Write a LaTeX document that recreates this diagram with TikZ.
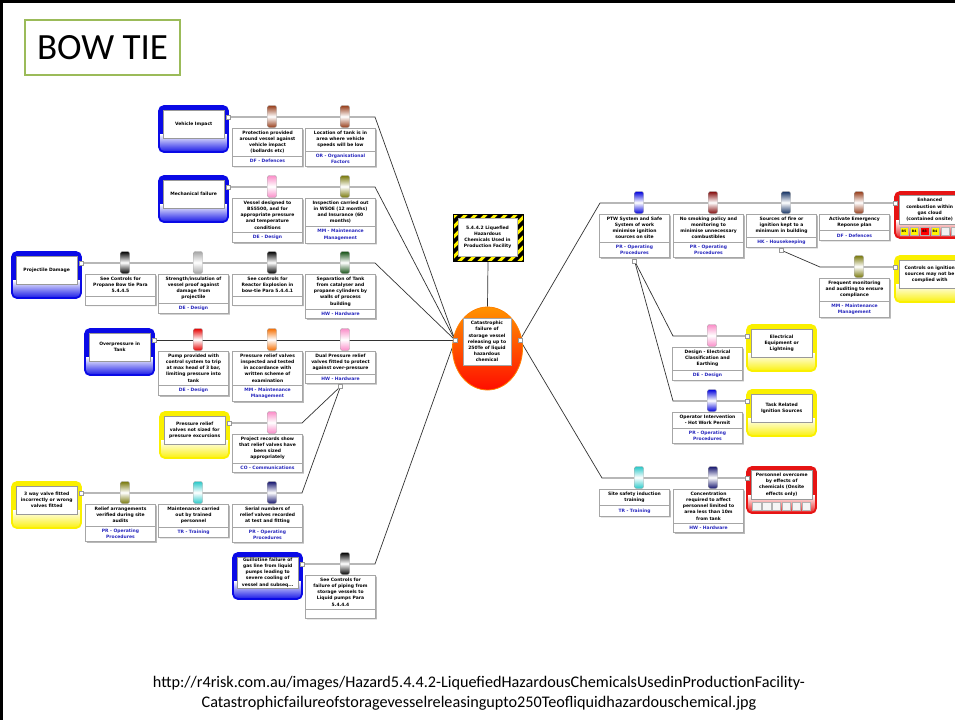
\documentclass[tikz,border=0pt]{standalone}
\usepackage{fontspec}
\setmainfont{Carlito}
\newfontfamily\dgfont{DejaVu Sans}
\usetikzlibrary{shapes.multipart,shapes.geometric,shadows}

\definecolor{tblue}{RGB}{10,10,230}
\definecolor{tyellow}{RGB}{250,240,0}
\definecolor{tred}{RGB}{230,20,20}
\definecolor{lblue}{RGB}{40,40,190}
\definecolor{cbrown}{RGB}{150,60,25}
\definecolor{cpink}{RGB}{250,140,200}
\definecolor{colive}{RGB}{120,120,10}
\definecolor{csilver}{RGB}{165,165,165}
\definecolor{cgreen}{RGB}{20,80,20}
\definecolor{cred}{RGB}{230,0,0}
\definecolor{corange}{RGB}{245,110,0}
\definecolor{ccyan}{RGB}{40,200,200}
\definecolor{cnavy}{RGB}{20,20,110}
\definecolor{cblue}{RGB}{0,0,220}
\definecolor{cmaroon}{RGB}{130,10,10}
\definecolor{csteel}{RGB}{20,50,100}
\definecolor{tgreen}{RGB}{155,187,89}

\pgfdeclarelayer{paper}
\pgfdeclarelayer{lines}
\pgfsetlayers{paper,lines,main}

\tikzset{
  dgtext/.style={font=\dgfont\bfseries\fontsize{4.5}{6.1}\selectfont, text=black},
  ctrlbox/.style={rectangle split, rectangle split parts=2, draw=gray!70, line width=0.4pt,
    fill=white, text width=66pt, inner xsep=2pt, inner ysep=2.8pt, align=center, dgtext,
    anchor=north, drop shadow={shadow xshift=1.3pt, shadow yshift=-1.3pt, fill=gray!55, opacity=1}},
  capsule/.style={rounded corners=2pt, minimum width=9pt, minimum height=22pt, inner sep=0pt,
    draw=gray!70, line width=0.4pt, top color=#1, bottom color=#1, middle color=white},
  innerbox/.style={draw=gray!80, line width=0.4pt, fill=white, inner sep=1pt, align=center,
    dgtext, anchor=north west},
  port/.style={draw=gray!80, fill=white, line width=0.4pt, minimum size=4pt, inner sep=0pt},
  cellbox/.style={draw=gray!60, line width=0.3pt, minimum width=8.5pt, minimum height=7.5pt,
    inner sep=0pt, font=\dgfont\bfseries\fontsize{3.2}{3.5}\selectfont},
  conn/.style={draw=black!80, line width=0.7pt},
}

\newcommand\lbl[1]{{\color{lblue}#1}}
\newcommand\nolbl{\rule{0pt}{3pt}}

% rounded frame with a glossy lower band: left x, line y, colour
\newcommand\glossframe[3]{%
  \fill[rounded corners=5pt, #3] (#1,{#2-11}) rectangle ({#1+69},{#2+35});
  \begin{scope}
    \clip[rounded corners=5pt] (#1,{#2-11}) rectangle ({#1+69},{#2+35});
    \shade[top color=white, bottom color=#3] (#1,{#2+17}) rectangle ({#1+69},{#2+36});
  \end{scope}
  \draw[rounded corners=5pt, #3, line width=1.8pt] (#1,{#2-11}) rectangle ({#1+69},{#2+35});
}

% cause / escalation box: name, left x, line y, colour, text, port x
\newcommand\sidebox[6]{%
  \glossframe{#2}{#3}{#4}
  \node[innerbox, minimum width=61pt, minimum height=28pt] (#1) at ({#2+4},{#3-7}) {#5};
  \node[port] (#1p) at (#6,#3) {};
}

% outcome box: name, left x, line y, text, risk cells
\newcommand\consbox[5]{%
  \glossframe{#2}{#3}{tred}
  \node[innerbox, minimum width=61pt, minimum height=29pt] (#1) at ({#2+4},{#3-8}) {#4};
  \node[port] (#1p) at (#2,#3) {};
  #5
}

\newcommand\rcell[4]{\node[cellbox, fill=#3] (#1) at #2 {#4};}

% barrier: name, capsule x, line y, colour, description, category
\newcommand\ctrl[6]{%
  \node[ctrlbox] (#1) at ({#2-4.5},{#3+11}) {#5\nodepart{two}#6};
  \node[capsule=#4] (#1c) at (#2,{#3-0.5}) {};
}

\begin{document}
\begin{tikzpicture}[x=1pt,y=-1pt]
\useasboundingbox (0,0) rectangle (955,720);
\clip (0,0) rectangle (955,720);
\begin{pgfonlayer}{paper}
  \fill[white] (0,0) rectangle (955,720);
\end{pgfonlayer}
\draw[line width=3pt] (0,1.5) -- (955,1.5);
\draw[line width=3pt] (1.5,0) -- (1.5,720);

% title
\node[draw=tgreen, line width=1.6pt, minimum width=155pt, minimum height=55pt, inner sep=0pt,
  font=\fontsize{37}{40}\selectfont] (title) at (102.5,47.5) {BOW TIE};

% hazard
\node[draw=black, line width=0.5pt, minimum width=70pt, minimum height=47pt,
  path picture={\fill[yellow] (path picture bounding box.south west) rectangle (path picture bounding box.north east);
    \foreach \s in {-70,-60,...,70} \draw[line width=3.6pt] ({\s-30},30) -- ({\s+30},-30);}] (hz) at (488,237.5) {};
\node[fill=white, draw=gray!60, minimum width=59pt, minimum height=38pt, inner sep=1pt,
  align=center, dgtext] (hzt) at (487.5,237) {5.4.4.2 Liquefied\\Hazardous\\Chemicals Used in\\Production Facility};

% top event
\node[ellipse, minimum width=70pt, minimum height=83pt, draw=orange, line width=0.8pt,
  top color=orange!85!yellow, bottom color=red!90!orange] (te) at (487.5,348.5) {};
\node[fill=white, draw=gray!70, minimum width=48pt, minimum height=47pt, inner sep=1pt,
  align=center, dgtext] (tet) at (487,341.5) {Catastrophic\\failure of\\storage vessel\\releasing up to\\250Te of liquid\\hazardous\\chemical};
\node[port] (tel) at (455,340) {};
\node[port] (ter) at (520,340) {};

% causes and escalation factors (left)
\sidebox{t1}{159}{117}{tblue}{Vehicle Impact}{228}
\sidebox{t2}{159}{187}{tblue}{Mechanical failure}{228}
\sidebox{t3}{12}{263}{tblue}{Projectile Damage}{81}
\sidebox{t4}{85}{340}{tblue}{Overpressure in\\Tank}{154}
\sidebox{e1}{160}{423}{tyellow}{Pressure relief\\valves not sized for\\pressure excursions}{229}
\sidebox{e2}{12}{493}{tyellow}{3 way valve fitted\\incorrectly or wrong\\valves fitted}{81}
\sidebox{t5}{233}{564}{tblue}{Guillotine failure of\\gas line from liquid\\pumps leading to\\severe cooling of\\vessel and subseq...}{302}

% preventive barriers
\ctrl{c11}{272}{117}{cbrown}{Protection provided\\around vessel against\\vehicle impact\\(bollards etc)}{\lbl{DF - Defences}}
\ctrl{c12}{345}{117}{cbrown}{Location of tank is in\\area where vehicle\\speeds will be low}{\lbl{OR - Organisational\\Factors}}
\ctrl{c21}{272}{187}{cpink}{Vessel designed to\\BS5500, and for\\appropriate pressure\\and temperature\\conditions}{\lbl{DE - Design}}
\ctrl{c22}{345}{187}{colive}{Inspection carried out\\in WSOE (12 months)\\and Insurance (60\\months)}{\lbl{MM - Maintenance\\Management}}
\ctrl{c31}{125}{263}{black}{See Controls for\\Propane Bow tie Para\\5.4.4.5}{\nolbl}
\ctrl{c32}{198}{263}{csilver}{Strength/insulation of\\vessel proof against\\damage from\\projectile}{\lbl{DE - Design}}
\ctrl{c33}{272}{263}{black}{See controls for\\Reactor Explosion in\\bow-tie Para 5.4.4.1}{\nolbl}
\ctrl{c34}{345}{263}{cgreen}{Separation of Tank\\from catalyser and\\propane cylinders by\\walls of process\\building}{\lbl{HW - Hardware}}
\ctrl{c41}{198}{340}{cred}{Pump provided with\\control system to trip\\at max head of 3 bar,\\limiting pressure into\\tank}{\lbl{DE - Design}}
\ctrl{c42}{272}{340}{corange}{Pressure relief valves\\inspected and tested\\in accordance with\\written scheme of\\examination}{\lbl{MM - Maintenance\\Management}}
\ctrl{c43}{345}{340}{cpink}{Dual Pressure relief\\valves fitted to protect\\against over-pressure}{\lbl{HW - Hardware}}
\ctrl{d11}{272}{423}{cpink}{Project records show\\that relief valves have\\been sized\\appropriately}{\lbl{CO - Communications}}
\ctrl{d21}{125}{493}{colive}{Relief arrangements\\verified during site\\audits}{\lbl{PR - Operating\\Procedures}}
\ctrl{d22}{198}{493}{ccyan}{Maintenance carried\\out by trained\\personnel}{\lbl{TR - Training}}
\ctrl{d23}{272}{493}{cnavy}{Serial numbers of\\relief valves recorded\\at test and fitting}{\lbl{PR - Operating\\Procedures}}
\ctrl{c51}{345}{564}{black}{See Controls for\\failure of piping from\\storage vessels to\\Liquid pumps Para\\5.4.4.4}{\nolbl}
\node[port] (c43p) at ([yshift=-3pt]c43.south) {};

% outcomes and escalation factors (right)
\consbox{k1}{895}{203}{Enhanced\\combustion within\\gas cloud\\(contained onsite)}{%
  \rcell{k1a}{(904,231)}{yellow}{B5}\rcell{k1b}{(914.3,231)}{yellow}{B4}%
  \rcell{k1c}{(924.6,231)}{red}{B3}\rcell{k1d}{(934.9,231)}{yellow}{B4}%
  \rcell{k1e}{(945.2,231)}{gray!12}{}\rcell{k1f}{(955.5,231)}{gray!12}{}}
\sidebox{f1}{895}{267}{tyellow}{Controls on ignition\\sources may not be\\complied with}{895}
\sidebox{f2}{747}{336}{tyellow}{Electrical\\Equipment or\\Lightning}{747}
\sidebox{f3}{747}{401}{tyellow}{Task Related\\Ignition Sources}{747}
\consbox{k2}{747}{478}{Personnel overcome\\by effects of\\chemicals (Onsite\\effects only)}{%
  \rcell{k2a}{(756.5,506)}{gray!8}{}\rcell{k2b}{(766.4,506)}{gray!8}{}%
  \rcell{k2c}{(776.3,506)}{gray!8}{}\rcell{k2d}{(786.2,506)}{gray!8}{}%
  \rcell{k2e}{(796.1,506)}{gray!8}{}\rcell{k2f}{(806,506)}{gray!8}{}}

% mitigating barriers
\ctrl{r1}{639}{203}{cblue}{PTW System and Safe\\System of work\\minimise ignition\\sources on site}{\lbl{PR - Operating\\Procedures}}
\ctrl{r2}{713}{203}{cmaroon}{No smoking policy and\\monitoring to\\minimise unnecessary\\combustibles}{\lbl{PR - Operating\\Procedures}}
\ctrl{r3}{786}{203}{csteel}{Sources of fire or\\ignition kept to a\\minimum in building}{\lbl{HK - Housekeeping}}
\ctrl{r4}{859}{203}{cbrown}{Activate Emergency\\Reponse plan}{\lbl{DF - Defences}}
\ctrl{s1}{859}{267}{colive}{Frequent monitoring\\and auditing to ensure\\compliance}{\lbl{MM - Maintenance\\Management}}
\ctrl{s2}{712}{336}{cpink}{Design - Electrical\\Classification and\\Earthing}{\lbl{DE - Design}}
\ctrl{s3}{712}{401}{cblue}{Operator Intervention\\- Hot Work Permit}{\lbl{PR - Operating\\Procedures}}
\ctrl{r5}{639}{478}{ccyan}{Site safety induction\\training}{\lbl{TR - Training}}
\ctrl{r6}{713}{478}{cnavy}{Concentration\\required to affect\\personnel limited to\\area less than 10m\\from tank}{\lbl{HW - Hardware}}
\node[port] (r1p) at ([yshift=-3pt]r1.south) {};
\node[port] (r3p) at ([yshift=-3pt]r3.south) {};

% connectors
\begin{pgfonlayer}{lines}
  \coordinate (j1) at (375,117);
  \coordinate (j2) at (375,187);
  \coordinate (j3) at (375,263);
  \coordinate (j5) at (375,564);
  \coordinate (je1) at (302,423);
  \coordinate (je2) at (302,493);
  \coordinate (jk1) at (600,203);
  \coordinate (jk2) at (602,478);
  \coordinate (jf1) at (820,267);
  \coordinate (jf2) at (673,336);
  \coordinate (jf3) at (673,401);
  \draw[conn] (hz.south) -- (te.north);
  \draw[conn] (t1p.center) -- (j1) -- (tel.center);
  \draw[conn] (t2p.center) -- (j2) -- (tel.center);
  \draw[conn] (t3p.center) -- (j3) -- (tel.center);
  \draw[conn] (t4p.center) -- (tel.center);
  \draw[conn] (t5p.center) -- (j5) -- (tel.center);
  \draw[conn] (e1p.center) -- (je1) -- (c43p.center);
  \draw[conn] (e2p.center) -- (je2) -- (c43p.center);
  \draw[conn] (ter.center) -- (jk1) -- (k1p.center);
  \draw[conn] (ter.center) -- (jk2) -- (k2p.center);
  \draw[conn] (f1p.center) -- (jf1) -- (r3p.center);
  \draw[conn] (f2p.center) -- (jf2) -- (r1p.center);
  \draw[conn] (f3p.center) -- (jf3) -- (r1p.center);
\end{pgfonlayer}

% source reference
\node[font=\fontsize{16.2}{20}\selectfont, align=center] (src) at (479,693)
  {http://r4risk.com.au/images/Hazard5.4.4.2-LiquefiedHazardousChemicalsUsedinProductionFacility-\\Catastrophicfailureofstoragevesselreleasingupto250Teofliquidhazardouschemical.jpg};
\end{tikzpicture}
\end{document}
